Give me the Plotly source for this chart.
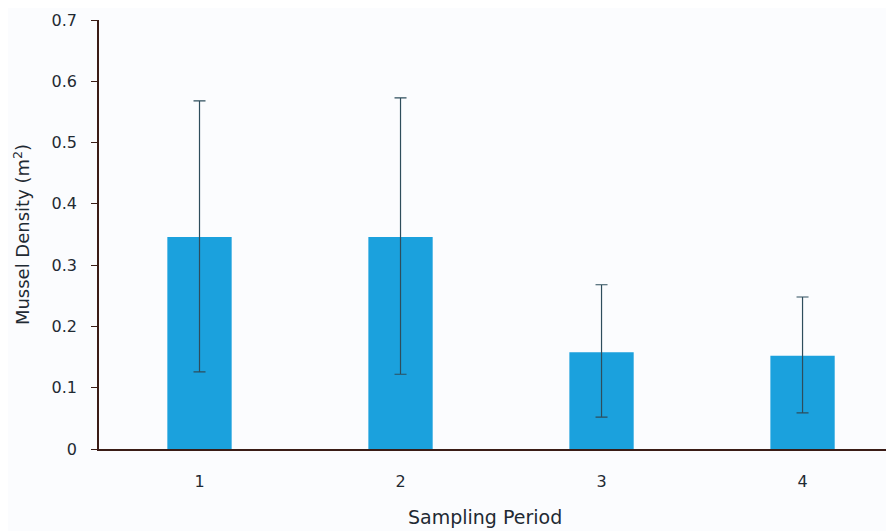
import plotly.graph_objects as go

periods = ["1", "2", "3", "4"]
density = [0.346, 0.346, 0.158, 0.152]
err_upper = [0.568, 0.573, 0.268, 0.248]
err_lower = [0.126, 0.122, 0.052, 0.059]

x_vals = [1, 2, 3, 4]
plus = [u - d for u, d in zip(err_upper, density)]
minus = [d - l for d, l in zip(density, err_lower)]

fig = go.Figure()
fig.add_trace(go.Bar(
    x=x_vals, y=density, width=0.32,
    marker=dict(color="#1ba1dd", line=dict(width=0)),
    error_y=dict(type="data", symmetric=False, array=plus, arrayminus=minus,
                 color="#2e4d5c", thickness=1.2, width=6),
))

font_family = "'DejaVu Sans', Verdana, sans-serif"
text_color = "#1f2a33"
fig.update_layout(
    width=886, height=523,
    margin=dict(l=91, r=0, t=12, b=82),
    paper_bgcolor="#fbfcfe", plot_bgcolor="#fbfcfe",
    showlegend=False,
    font=dict(family=font_family, color=text_color),
    xaxis=dict(
        range=[0.5, 4.455], tickvals=x_vals, ticktext=periods,
        showline=True, linecolor="#3a1c16", linewidth=1.5,
        ticks="outside", ticklen=17, tickcolor="rgba(0,0,0,0)",
        showgrid=False, zeroline=False,
        tickfont=dict(size=16, color=text_color),
        automargin=False,
    ),
    yaxis=dict(
        range=[0, 0.7], dtick=0.1, tickformat="~g",
        showline=True, linecolor="#3a1c16", linewidth=1.5,
        ticks="outside", ticklen=6, tickcolor="#3a1c16",
        showgrid=False, zeroline=False,
        tickfont=dict(size=16, color=text_color),
        ticklabelstandoff=11,
        title=dict(text="Mussel Density (m<sup>2</sup>)", font=dict(size=18, color=text_color), standoff=17),
        automargin=False,
    ),
    annotations=[dict(
        text="Sampling Period", xref="paper", yref="paper",
        x=0.4855, y=-0.158, xanchor="center", yanchor="middle",
        showarrow=False, font=dict(size=19, color=text_color),
    )],
)

fig.write_html("out.html")
